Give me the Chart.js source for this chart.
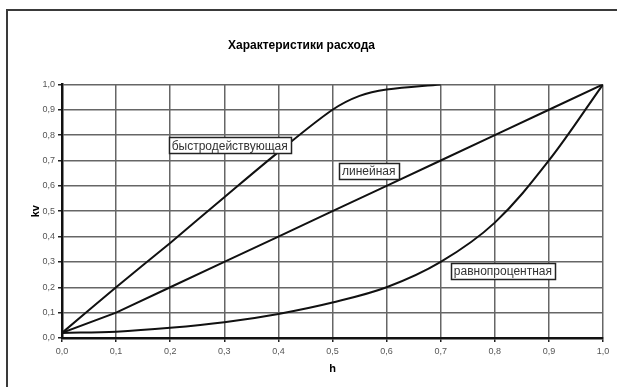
<!DOCTYPE html>
<html>
<head>
<meta charset="utf-8">
<script src="https://cdn.jsdelivr.net/npm/chart.js@4.4.1/dist/chart.umd.min.js"></script>
<style>
  html, body { margin: 0; padding: 0; background: #fff; overflow: hidden; }
  #frame { position: absolute; left: 6px; top: 9px; width: 700px; height: 500px;
           border-left: 2px solid #3a3a3a; border-top: 2px solid #3a3a3a; }
  #wrap { position: absolute; left: 0; top: 0; width: 617px; height: 387px; }
</style>
</head>
<body>
<div id="frame"></div>
<div id="wrap"><canvas id="c" width="617" height="387"></canvas></div>
<script>
// ---- data ----
const hValues        = [0, 0.1, 0.2, 0.3, 0.4, 0.5, 0.6, 0.7, 0.8, 0.9, 1.0];
const hFast          = [0, 0.1, 0.2, 0.3, 0.4, 0.5, 0.55, 0.6, 0.7];
const kvFast         = [0.02, 0.2, 0.375, 0.555, 0.733, 0.9, 0.955, 0.98, 1.0];
const kvLinear       = [0.02, 0.1, 0.2, 0.3, 0.4, 0.5, 0.6, 0.7, 0.8, 0.9, 1.0];
const kvEqualPercent = [0.02, 0.025, 0.04, 0.062, 0.095, 0.14, 0.2, 0.3, 0.455, 0.7, 1.0];
const seriesNames    = ['быстродействующая', 'линейная', 'равнопроцентная'];
const tickValues     = [0, 0.1, 0.2, 0.3, 0.4, 0.5, 0.6, 0.7, 0.8, 0.9, 1.0];
const chartTitle     = 'Характеристики расхода';
const xTitle = 'h';
const yTitle = 'kv';

const toPts = (xs, ys) => xs.map((x, i) => ({ x: x, y: ys[i] }));
const fmt = v => (Math.round(v * 10) / 10).toFixed(1).replace('.', ',');
const FONT = '"Liberation Sans", Arial, sans-serif';

const lineStyle = {
  borderColor: '#111', borderWidth: 2, pointRadius: 0, showLine: true,
  fill: false, tension: 0.35
};

// text boxes placed at data coordinates through the scales
const boxLabels = {
  id: 'boxLabels',
  afterDatasetsDraw(chart, args, opts) {
    const ctx = chart.ctx;
    const xs = chart.scales.x, ys = chart.scales.y;
    ctx.save();
    ctx.font = '12px ' + FONT;
    ctx.textBaseline = 'middle';
    ctx.textAlign = 'center';
    opts.items.forEach(it => {
      const cx = xs.getPixelForValue(it.x);
      const cy = ys.getPixelForValue(it.y);
      const w = Math.round(ctx.measureText(it.text).width + 6);
      const h = 16;
      const x0 = Math.round(cx - w / 2), y0 = Math.round(cy - h / 2);
      ctx.fillStyle = '#fff';
      ctx.fillRect(x0, y0, w, h);
      ctx.lineWidth = 1.5;
      ctx.strokeStyle = '#222';
      ctx.strokeRect(x0 + 0.5, y0 + 0.5, w, h);
      ctx.fillStyle = '#333';
      ctx.fillText(it.text, cx, cy + 1);
    });
    ctx.restore();
  }
};

new Chart(document.getElementById('c'), {
  type: 'scatter',
  data: {
    datasets: [
      Object.assign({ label: seriesNames[0], data: toPts(hFast, kvFast) }, lineStyle),
      Object.assign({ label: seriesNames[1], data: toPts(hValues, kvLinear) }, lineStyle, { tension: 0 }),
      Object.assign({ label: seriesNames[2], data: toPts(hValues, kvEqualPercent) }, lineStyle)
    ]
  },
  plugins: [boxLabels],
  options: {
    responsive: false,
    animation: false,
    layout: { padding: { left: 0, right: 14, top: 0, bottom: 9 } },
    plugins: {
      legend: { display: false },
      tooltip: { enabled: false },
      title: {
        display: true, text: chartTitle, color: '#000',
        font: { family: FONT, size: 12, weight: 'bold' },
        padding: { top: 38, bottom: 32 }
      },
      boxLabels: {
        items: [
          { text: seriesNames[0], x: 0.31, y: 0.76 },
          { text: seriesNames[1], x: 0.567, y: 0.658 },
          { text: seriesNames[2], x: 0.815, y: 0.264 }
        ]
      }
    },
    scales: {
      x: {
        type: 'linear', min: 0, max: 1,
        afterBuildTicks: s => { s.ticks = tickValues.map(v => ({ value: v })); },
        afterFit: s => { s.height = 40; },
        ticks: {
          callback: v => fmt(v), color: '#555', padding: 4, maxRotation: 0,
          font: { family: FONT, size: 9 }
        },
        grid: { color: '#666', lineWidth: 1.5, tickLength: 4, tickColor: '#222', tickWidth: 1.5 },
        border: { display: true, color: '#111', width: 2.5 },
        title: {
          display: true, text: xTitle, color: '#000', padding: { top: 0, bottom: 2 },
          font: { family: FONT, size: 11, weight: 'bold' }
        }
      },
      y: {
        type: 'linear', min: 0, max: 1,
        afterBuildTicks: s => { s.ticks = tickValues.map(v => ({ value: v })); },
        afterFit: s => { s.width = 62; },
        ticks: {
          callback: v => fmt(v), color: '#555', padding: 3,
          font: { family: FONT, size: 9 }
        },
        grid: { color: '#666', lineWidth: 1.5, tickLength: 4, tickColor: '#222', tickWidth: 1.5 },
        border: { display: true, color: '#111', width: 2.5 },
        title: {
          display: true, text: yTitle, color: '#000', padding: { top: 29, bottom: 0 },
          font: { family: FONT, size: 11, weight: 'bold' }
        }
      }
    }
  }
});
</script>
</body>
</html>
